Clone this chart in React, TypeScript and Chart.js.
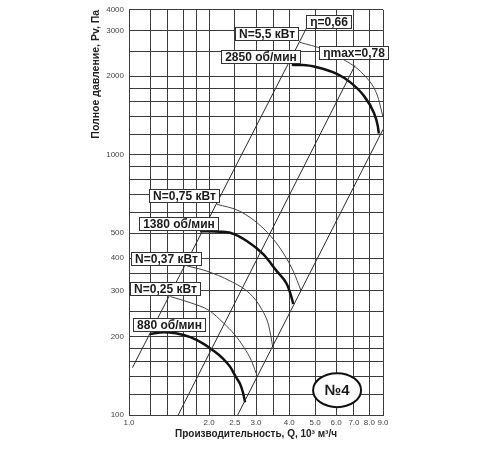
import React, { useEffect, useRef } from 'react';
import { Chart, registerables } from 'chart.js';

Chart.register(...registerables);

// ---- axes ----
const xGridValues = [1.0, 1.2, 1.4, 1.6, 1.8, 2.0, 2.5, 3.0, 3.5, 4.0, 5.0, 6.0, 7.0, 8.0, 9.0];
const xTickLabels = ['1.0', '2.0', '2.5', '3.0', '4.0', '5.0', '6.0', '7.0', '8.0', '9.0'];
const yGridValues = [100, 120, 140, 160, 180, 200, 250, 300, 350, 400, 500, 600, 700, 800, 900, 1000, 1200, 1400, 1600, 1800, 2000, 2500, 3000];
const yTickLabels = ['100', '200', '300', '400', '500', '1000', '2000', '3000'];
const yTopLabel = '4000';
const X_MIN = 1.0;
const X_MAX = 9.0;
const Y_MIN = 100;
const Y_MAX = 3600;

// ---- fan pressure curves (Q, 10^3 m3/h ; Pv, Pa) ----
const q880 = [1.2, 1.35, 1.5, 1.7, 1.9, 2.07, 2.25, 2.4, 2.52, 2.61, 2.68, 2.73];
const p880 = [205, 208, 206, 199, 188, 177, 165, 153, 140, 132, 122, 112];
const q1380 = [1.85, 2.0, 2.2, 2.4, 2.77, 3.2, 3.59, 3.92, 4.08, 4.14];
const p1380 = [508, 508, 506, 501, 466, 414, 357, 318, 283, 267];
const q2850 = [4.09, 4.5, 5.08, 6.04, 6.77, 7.6, 8.29, 8.6, 8.68];
const p2850 = [2212, 2210, 2167, 2043, 1899, 1690, 1459, 1290, 1206];

// ---- thin power curves ----
const qN55 = [4.39, 5.36, 6.37, 7.58, 8.56, 9.0];
const pN55 = [2700, 2540, 2325, 2038, 1694, 1397];
const qN075 = [2.14, 2.61, 3.19, 3.69, 4.14, 4.43];
const pN075 = [645, 606, 522, 438, 357, 300];
const qN037 = [1.65, 1.96, 2.4, 2.85, 3.15, 3.35, 3.47];
const pN037 = [374, 357, 327, 292, 255, 220, 182];
const qN025 = [1.43, 1.7, 2.0, 2.26, 2.5, 2.7, 2.88, 3.0];
const pN025 = [285, 270, 252, 226, 203, 182, 162, 145];

// ---- efficiency rays ----
const qEtaLeft = [1.03, 4.65];
const pEtaLeft = [152, 3070];
const qEtaMax = [1.53, 7.06];
const pEtaMax = [100, 2200];
const qEtaRight = [2.56, 9.0];
const pEtaRight = [100, 1250];

// ---- boxed labels (anchored in data space) ----
const labelTexts = ['η=0,66', 'N=5,5 кВт', 'ηmax=0,78', '2850 об/мин', 'N=0,75 кВт', '1380 об/мин', 'N=0,37 кВт', 'N=0,25 кВт', '880 об/мин'];
const labelQ = [5.6, 3.29, 6.98, 3.12, 1.61, 1.53, 1.38, 1.37, 1.41];
const labelP = [3245, 2922, 2473, 2388, 697, 543, 399, 305, 223];
const badgeText = '№4';
const badgeQ = 6.05;
const badgeP = 124.6;

const FONT = '"Liberation Sans", Arial, sans-serif';
const GRID = '#3c3c3c';

const annotPlugin = {
  id: 'annot',
  afterDatasetsDraw(chart: any) {
    const { ctx, scales } = chart;
    const x = scales.x;
    const y = scales.y;
    ctx.save();
    ctx.font = `bold 12px ${FONT}`;
    labelTexts.forEach((t, i) => {
      const cx = x.getPixelForValue(labelQ[i]);
      const cy = y.getPixelForValue(labelP[i]);
      const w = Math.round(ctx.measureText(t).width + 7);
      const h = 13;
      const lx = Math.round(cx - w / 2);
      const ty = Math.round(cy - h / 2);
      ctx.fillStyle = '#fff';
      ctx.fillRect(lx, ty, w, h);
      ctx.strokeStyle = '#333';
      ctx.lineWidth = 1;
      ctx.strokeRect(lx + 0.5, ty + 0.5, w, h);
      ctx.fillStyle = '#1a1a1a';
      ctx.textAlign = 'center';
      ctx.textBaseline = 'middle';
      ctx.fillText(t, lx + w / 2 + 0.5, ty + h / 2 + 1);
    });
    const bx = x.getPixelForValue(badgeQ);
    const by = y.getPixelForValue(badgeP);
    ctx.beginPath();
    ctx.ellipse(bx, by, 24, 17, 0, 0, Math.PI * 2);
    ctx.fillStyle = '#fff';
    ctx.fill();
    ctx.lineWidth = 2;
    ctx.strokeStyle = '#111';
    ctx.stroke();
    ctx.font = `bold 15px ${FONT}`;
    ctx.fillStyle = '#1a1a1a';
    ctx.textAlign = 'center';
    ctx.textBaseline = 'middle';
    ctx.fillText(badgeText, bx, by + 1);
    ctx.restore();
  },
};

function series(label: string, q: number[], p: number[], color: string, width: number, curved: boolean) {
  return {
    label,
    data: q.map((v, i) => ({ x: v, y: p[i] })),
    borderColor: color,
    borderWidth: width,
    pointRadius: 0,
    fill: false,
    tension: curved ? 0.4 : 0,
    cubicInterpolationMode: curved ? 'monotone' : 'default',
  };
}

export default function App() {
  const ref = useRef<HTMLCanvasElement>(null);
  useEffect(() => {
    document.body.style.margin = '0';
    const canvas = ref.current;
    if (!canvas) return;
    const near = (a: number, b: number) => Math.abs(a - b) < 1e-6;
    const chart = new Chart(canvas, {
      type: 'line',
      data: {
        datasets: [
          series('η=0,66 (left)', qEtaLeft, pEtaLeft, '#2a2a2a', 1, false),
          series('ηmax=0,78', qEtaMax, pEtaMax, '#2a2a2a', 1, false),
          series('η=0,66 (right)', qEtaRight, pEtaRight, '#2a2a2a', 1, false),
          series('N=5,5 кВт', qN55, pN55, '#444', 1, true),
          series('N=0,75 кВт', qN075, pN075, '#444', 1, true),
          series('N=0,37 кВт', qN037, pN037, '#444', 1, true),
          series('N=0,25 кВт', qN025, pN025, '#444', 1, true),
          series('2850 об/мин', q2850, p2850, '#111', 2.5, true),
          series('1380 об/мин', q1380, p1380, '#111', 2.5, true),
          series('880 об/мин', q880, p880, '#111', 2.5, true),
        ] as any,
      },
      options: {
        animation: false,
        responsive: false,
        parsing: false,
        layout: { padding: { top: 7, right: 117, bottom: 0, left: 0 } },
        plugins: { legend: { display: false }, tooltip: { enabled: false } },
        scales: {
          x: {
            type: 'logarithmic',
            min: X_MIN,
            max: X_MAX,
            afterBuildTicks: (s: any) => {
              s.ticks = xGridValues.map((v) => ({ value: v }));
            },
            afterFit: (s: any) => {
              s.height = 35;
            },
            grid: { color: GRID, lineWidth: 1, drawTicks: false },
            border: { color: GRID, width: 1 },
            ticks: {
              autoSkip: false,
              maxRotation: 0,
              padding: 3,
              color: '#444',
              font: { family: FONT, size: 8 },
              callback: (_v: any, i: number, ticks: any[]) => {
                const v = ticks[i].value;
                const l = xTickLabels.find((t) => near(parseFloat(t), v));
                return l ?? '';
              },
            },
            title: {
              display: true,
              text: 'Производительность, Q, 10³ м³/ч',
              color: '#222',
              font: { family: FONT, size: 10, weight: 'bold' },
              padding: { top: 0, bottom: 10 },
            },
          },
          y: {
            type: 'logarithmic',
            min: Y_MIN,
            max: Y_MAX,
            afterBuildTicks: (s: any) => {
              s.ticks = [...yGridValues, Y_MAX].map((v) => ({ value: v }));
            },
            afterFit: (s: any) => {
              s.width = 129;
            },
            grid: { color: GRID, lineWidth: 1, drawTicks: false },
            border: { color: GRID, width: 1 },
            ticks: {
              autoSkip: false,
              padding: 5,
              color: '#444',
              font: { family: FONT, size: 8 },
              callback: (_v: any, i: number, ticks: any[]) => {
                const v = ticks[i].value;
                if (near(v, Y_MAX)) return yTopLabel;
                const l = yTickLabels.find((t) => near(parseFloat(t), v));
                return l ?? '';
              },
            },
            title: {
              display: true,
              align: 'end',
              text: 'Полное давление, Pv, Па',
              color: '#222',
              font: { family: FONT, size: 10.5, weight: 'bold' },
              padding: { top: 90, bottom: 0 },
            },
          },
        },
      } as any,
      plugins: [annotPlugin],
    });
    return () => chart.destroy();
  }, []);
  return (
    <div style={{ width: 500, height: 450 }}>
      <canvas ref={ref} width={500} height={450} />
    </div>
  );
}
